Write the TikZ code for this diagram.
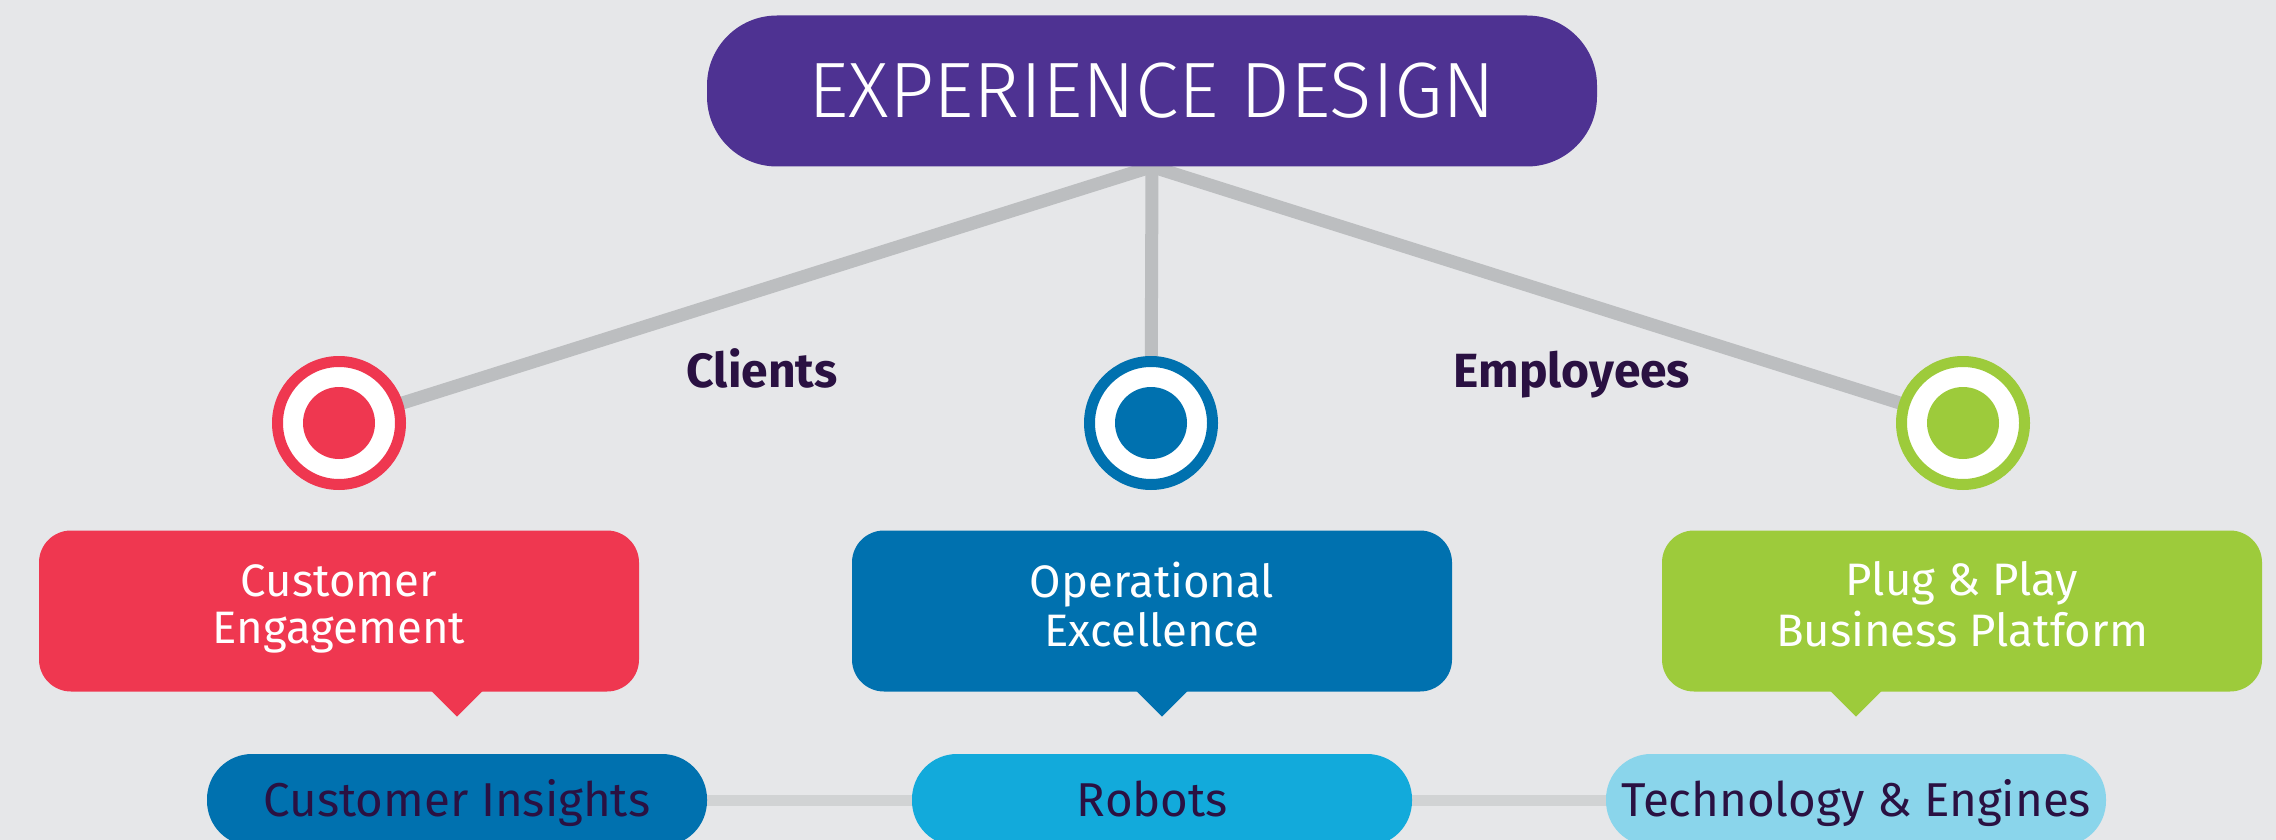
\documentclass[tikz,border=0pt]{standalone}
\usepackage{fontspec}
\setmainfont{Fira Sans}
\newfontfamily\thinfont{Fira Sans Light}
\usepackage{xcolor}
\usetikzlibrary{backgrounds}

\definecolor{bg}{HTML}{E6E7E9}
\definecolor{edpurple}{HTML}{4E3292}
\definecolor{spokegray}{HTML}{BCBEC0}
\definecolor{railgray}{HTML}{D1D3D4}
\definecolor{cered}{HTML}{EF3750}
\definecolor{oeblue}{HTML}{0071AF}
\definecolor{ppgreen}{HTML}{9DCB3B}
\definecolor{robcyan}{HTML}{12AADB}
\definecolor{techblue}{HTML}{8AD5EB}
\definecolor{ink}{HTML}{2A1142}

\tikzset{
  target/.style={circle, fill=white, draw=#1, line width=11pt, minimum size=123pt, inner sep=0pt,
    path picture={\fill[#1] (path picture bounding box.center) circle (36pt);}},
  bubble/.style={fill=#1, rounded corners=32pt, minimum width=600pt, minimum height=161pt,
    text=white, align=center, font=\fontsize{45.5}{47}\selectfont},
  pill/.style={fill=#1, rounded corners=45pt, minimum width=500pt, minimum height=92pt,
    text=ink, text height=33pt, text depth=0pt, font=\fontsize{47.5}{52}\selectfont},
  tag/.style={anchor=base, text=ink, font=\fontsize{48}{52}\selectfont\bfseries},
}

\begin{document}
\begin{tikzpicture}[x=1pt,y=-1pt]
\useasboundingbox (0,0) rectangle (2276,840);

\node[fill=edpurple, rounded corners=70pt, minimum width=890pt, minimum height=151pt,
  text=white, text height=53pt, text depth=0pt, font=\fontsize{78.5}{80}\selectfont\thinfont]
  (ed) at (1152,91) {EXPERIENCE DESIGN};

\node[target=cered] (cl) at (339,423) {};
\node[target=oeblue] (op) at (1151,423) {};
\node[target=ppgreen] (em) at (1963,423) {};

\node[tag] (clients) at (762,387) {Clients};
\node[tag] (employees) at (1572,387) {Employees};

\node[bubble=cered] (ce) at (339,611) {\strut Customer\\Engagement\strut};
\node[bubble=oeblue] (oe) at (1152,611) {\strut Operational\\Excellence\strut};
\node[bubble=ppgreen] (bp) at (1962,611) {\strut Plug \& Play\\Business Platform\strut};

\node[pill=oeblue] (ci) at (457,800) {Customer Insights};
\node[pill=robcyan] (rb) at (1162,800) {\hspace*{-19pt}Robots};
\node[pill=techblue] (te) at (1856,800) {Technology \& Engines};

% little pointers under the bubbles
\fill[cered] (ce.south -| ci) ++(-27,-2) -- ++(54,0) -- ++(-27,27) -- cycle;
\fill[oeblue] (oe.south -| rb) ++(-27,-2) -- ++(54,0) -- ++(-27,27) -- cycle;
\fill[ppgreen] (bp.south -| te) ++(-27,-2) -- ++(54,0) -- ++(-27,27) -- cycle;

\begin{scope}[on background layer]
\fill[bg] (0,0) rectangle (2276,840);
\draw[spokegray, line width=13pt] (ed.south) -- (cl.center);
\draw[spokegray, line width=13pt] (ed.south) -- (op.center);
\draw[spokegray, line width=13pt] (ed.south) -- (em.center);
\draw[railgray, line width=11pt] (ci) -- (rb) -- (te);
\end{scope}
\end{tikzpicture}
\end{document}
